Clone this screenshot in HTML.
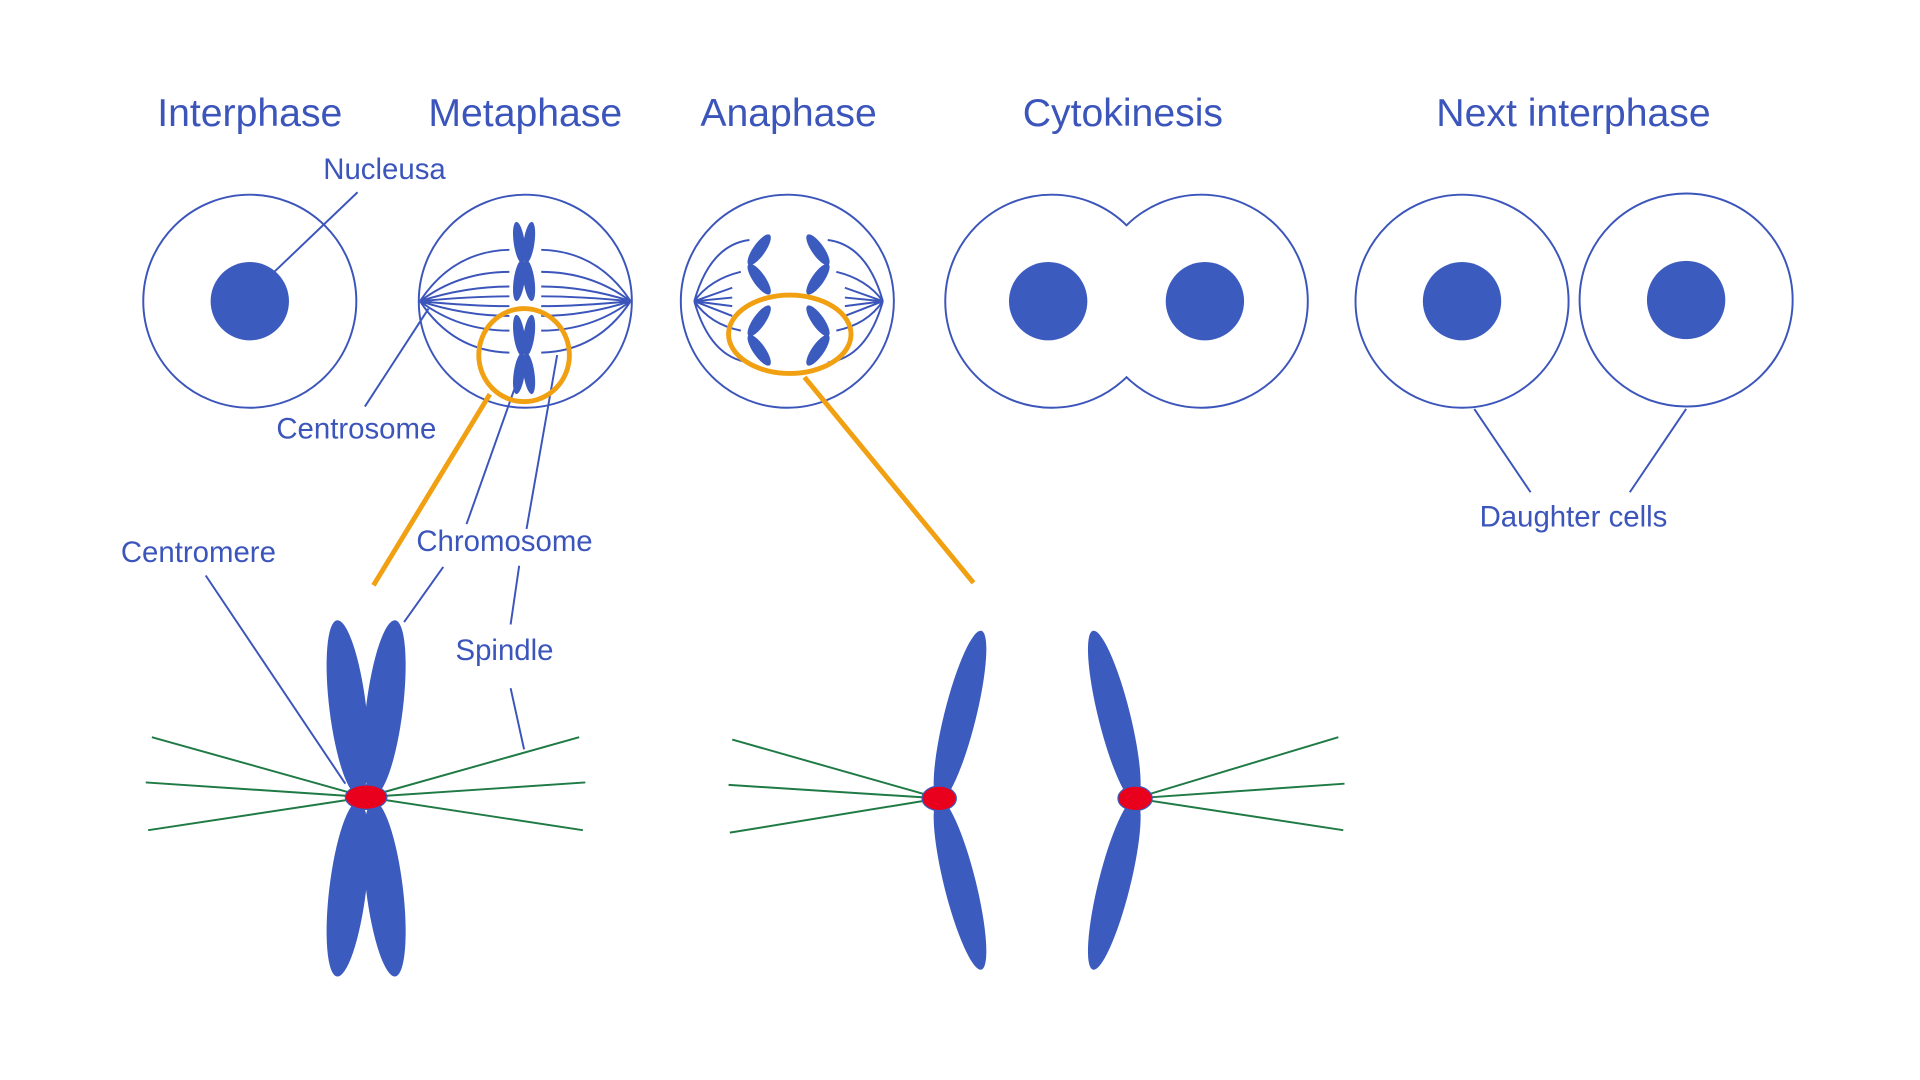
<!DOCTYPE html>
<html><head><style>html,body{margin:0;padding:0;background:#fff}svg{display:block}</style></head><body>
<svg width="1920" height="1080" viewBox="0 0 1568 882" xmlns="http://www.w3.org/2000/svg">
<g font-family="Liberation Sans, sans-serif" fill="#3b55bb" text-anchor="middle">
<text x="204" y="103" font-size="32">Interphase</text>
<text x="429" y="103" font-size="32">Metaphase</text>
<text x="644" y="103" font-size="32">Anaphase</text>
<text x="917" y="103" font-size="32">Cytokinesis</text>
<text x="1285" y="103" font-size="32">Next interphase</text>
<text x="314" y="146" font-size="24">Nucleusa</text>
<text x="291" y="358" font-size="24">Centrosome</text>
<text x="162" y="459" font-size="24">Centromere</text>
<text x="412" y="450" font-size="24">Chromosome</text>
<text x="412" y="539" font-size="24">Spindle</text>
<text x="1285" y="430" font-size="24">Daughter cells</text>
</g>
<g stroke="#3b55bb" stroke-width="1.6" fill="none">
<circle cx="204" cy="246" r="87"/>
<circle cx="429" cy="246" r="87"/>
<circle cx="643" cy="246" r="87"/>
<path d="M920 184 A87 87 0 1 0 920 308 A87 87 0 1 0 920 184 Z"/>
<circle cx="1194" cy="246" r="87"/>
<circle cx="1377" cy="245" r="87"/>
<path d="M292 157 L224 222 M298 332 L350 252 M168 470 L282 640 M381 428 L420 318 M330 508 L362 463 M430 432 L455 290 M417 510 L424 462 M417 562 L428 612 M1250 402 L1204 334 M1331 402 L1377 334"/>
<path d="M343 246 Q370 205 416 204 M343 246 Q375 222 416 222 M343 246 Q380 234 416 234 M343 246 Q385 242 416 242 M343 246 Q385 250 416 250 M343 246 Q380 258 416 258 M343 246 Q375 270 416 270 M343 246 Q370 287 416 288"/>
<path d="M515 246 Q488 205 442 204 M515 246 Q483 222 442 222 M515 246 Q478 234 442 234 M515 246 Q473 242 442 242 M515 246 Q473 250 442 250 M515 246 Q478 258 442 258 M515 246 Q483 270 442 270 M515 246 Q488 287 442 288"/>
<path d="M567 246 Q580 200 612 196 M567 246 Q580 228 605 222 M567 246 L598 235 M567 246 L598 243 M567 246 L598 250 M567 246 L598 258 M567 246 Q580 265 605 270 M567 246 Q580 292 612 296"/>
<path d="M721 246 Q708 200 676 196 M721 246 Q708 228 683 222 M721 246 L690 235 M721 246 L690 243 M721 246 L690 250 M721 246 L690 258 M721 246 Q708 265 683 270 M721 246 Q708 292 676 296"/>
</g>
<g fill="#3b5bbf">
<circle cx="204" cy="246" r="32"/>
<circle cx="856" cy="246" r="32"/>
<circle cx="984" cy="246" r="32"/>
<circle cx="1194" cy="246" r="32"/>
<circle cx="1377" cy="245" r="32"/>
<ellipse cx="424" cy="198" rx="4.5" ry="17" transform="rotate(-8 424 198)"/>
<ellipse cx="432" cy="198" rx="4.5" ry="17" transform="rotate(8 432 198)"/>
<ellipse cx="424" cy="229" rx="4.5" ry="17" transform="rotate(8 424 229)"/>
<ellipse cx="432" cy="229" rx="4.5" ry="17" transform="rotate(-8 432 229)"/>
<ellipse cx="424" cy="274" rx="4.5" ry="17" transform="rotate(-8 424 274)"/>
<ellipse cx="432" cy="274" rx="4.5" ry="17" transform="rotate(8 432 274)"/>
<ellipse cx="424" cy="305" rx="4.5" ry="17" transform="rotate(8 424 305)"/>
<ellipse cx="432" cy="305" rx="4.5" ry="17" transform="rotate(-8 432 305)"/>
<ellipse cx="620" cy="204" rx="5" ry="15" transform="rotate(35 620 204)"/>
<ellipse cx="620" cy="228" rx="5" ry="15" transform="rotate(-35 620 228)"/>
<ellipse cx="620" cy="262" rx="5" ry="15" transform="rotate(35 620 262)"/>
<ellipse cx="620" cy="286" rx="5" ry="15" transform="rotate(-35 620 286)"/>
<ellipse cx="668" cy="204" rx="5" ry="15" transform="rotate(-35 668 204)"/>
<ellipse cx="668" cy="228" rx="5" ry="15" transform="rotate(35 668 228)"/>
<ellipse cx="668" cy="262" rx="5" ry="15" transform="rotate(-35 668 262)"/>
<ellipse cx="668" cy="286" rx="5" ry="15" transform="rotate(35 668 286)"/>
</g>
<g stroke="#f0a010" stroke-width="4" fill="none">
<ellipse cx="428" cy="290" rx="37" ry="38"/>
<ellipse cx="645" cy="273" rx="50" ry="32"/>
<path d="M400 322 L305 478 M657 308 L795 476"/>
</g>
<g stroke="#1f7a45" stroke-width="1.6">
<path d="M299 651 L124 602 M299 651 L119 639 M299 651 L121 678 M299 651 L473 602 M299 651 L478 639 M299 651 L476 678"/>
<path d="M767 652 L598 604 M767 652 L595 641 M767 652 L596 680"/>
<path d="M927 652 L1093 602 M927 652 L1098 640 M927 652 L1097 678"/>
</g>
<g fill="#3b5bbf">
<ellipse cx="284" cy="578" rx="15" ry="72" transform="rotate(-7 284 578)"/>
<ellipse cx="314" cy="578" rx="15" ry="72" transform="rotate(7 314 578)"/>
<ellipse cx="284" cy="726" rx="15" ry="72" transform="rotate(7 284 726)"/>
<ellipse cx="314" cy="726" rx="15" ry="72" transform="rotate(-7 314 726)"/>
<ellipse cx="784" cy="585" rx="13" ry="72" transform="rotate(14 784 585)"/>
<ellipse cx="784" cy="722" rx="13" ry="72" transform="rotate(-14 784 722)"/>
<ellipse cx="910" cy="585" rx="13" ry="72" transform="rotate(-14 910 585)"/>
<ellipse cx="910" cy="722" rx="13" ry="72" transform="rotate(14 910 722)"/>
</g>
<g fill="#e8001c" stroke="#3b5bbf" stroke-width="1">
<ellipse cx="299" cy="651" rx="17" ry="10"/>
<ellipse cx="767" cy="652" rx="14" ry="10"/>
<ellipse cx="927" cy="652" rx="14" ry="10"/>
</g>
</svg>
</body></html>
